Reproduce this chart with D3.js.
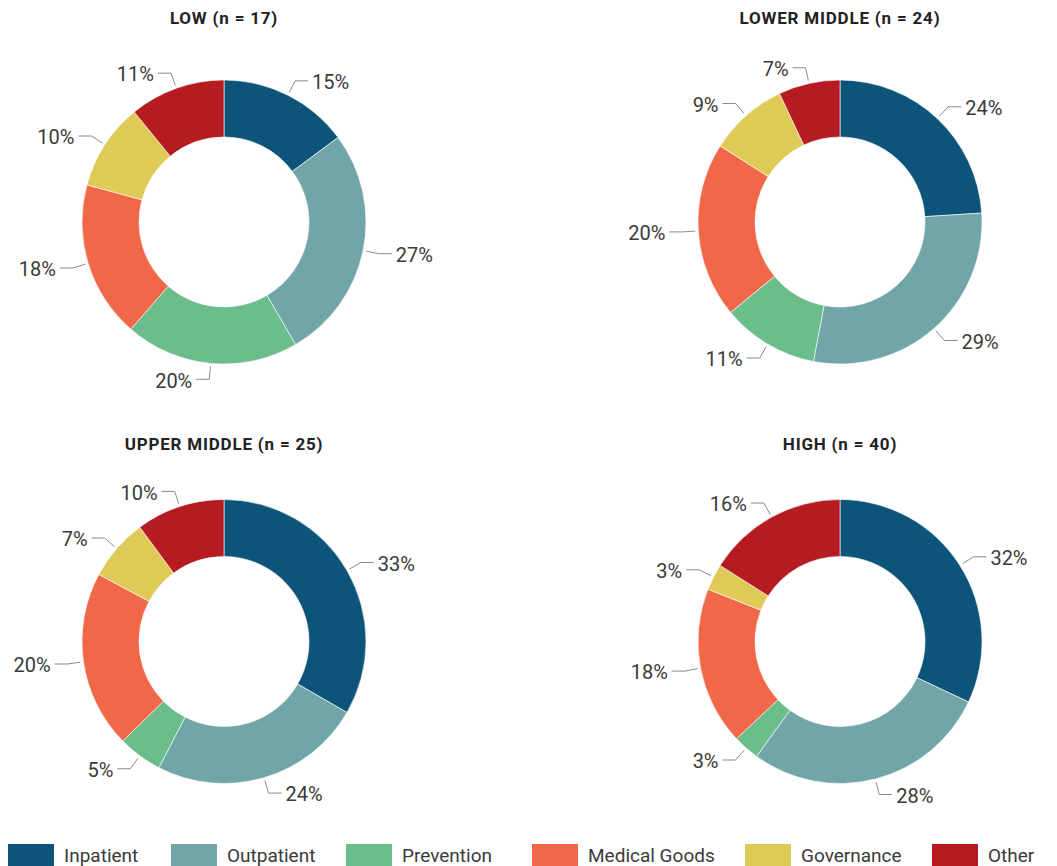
<!DOCTYPE html>
<html><head><meta charset="utf-8">
<script src="https://cdn.jsdelivr.net/npm/d3@7"></script>
<style>html,body{margin:0;padding:0;background:#fff;}svg{display:block;}</style>
</head><body>
<svg id="chart" width="1057" height="866"></svg>
<script>
// ---- data ----
const categories = ["Inpatient", "Outpatient", "Prevention", "Medical Goods", "Governance", "Other"];
const colors = ["#0d547b", "#72a5a7", "#6bbd8c", "#f16849", "#dfc957", "#b51c22"];
const groupTitles = ["LOW (n = 17)", "LOWER MIDDLE (n = 24)", "UPPER MIDDLE (n = 25)", "HIGH (n = 40)"];
const lowValues = [15, 27, 20, 18, 10, 11];
const lowerMiddleValues = [24, 29, 11, 20, 9, 7];
const upperMiddleValues = [33, 24, 5, 20, 7, 10];
const highValues = [32, 28, 3, 18, 3, 16];
const groupValues = [lowValues, lowerMiddleValues, upperMiddleValues, highValues];

// ---- layout ----
const centers = [[224, 222], [840, 222], [224, 641.5], [840, 641.5]];
const titleY = [20, 20, 446, 446];
const outerR = 142, innerR = 85;
const legendX = [8, 171, 346, 532, 745, 932];

const svg = d3.select("#chart");
const color = d3.scaleOrdinal().domain(categories).range(colors);
const pie = d3.pie().sort(null).value(d => d.value);
const arc = d3.arc().innerRadius(innerR).outerRadius(outerR);
const font = "Roboto, 'DejaVu Sans', sans-serif";

groupValues.forEach((vals, gi) => {
  const [cx, cy] = centers[gi];
  const data = categories.map((c, i) => ({cat: c, value: vals[i]}));
  const arcs = pie(data);

  svg.append("text")
    .attr("x", cx).attr("y", titleY[gi])
    .attr("text-anchor", "middle").attr("dominant-baseline", "middle")
    .attr("font-family", font).attr("font-weight", 700).attr("font-size", 17)
    .attr("letter-spacing", 0.8)
    .attr("fill", "#222")
    .text(groupTitles[gi]);

  const g = svg.append("g").attr("transform", `translate(${cx},${cy})`);
  g.selectAll("path.slice").data(arcs).join("path")
    .attr("class", "slice")
    .attr("d", arc)
    .attr("fill", d => color(d.data.cat))
    .attr("stroke", "#fff").attr("stroke-width", 0.6);

  arcs.forEach(d => {
    const a = (d.startAngle + d.endAngle) / 2;
    const side = a < Math.PI ? 1 : -1;
    const r1 = outerR + 3, r2 = outerR + 16;
    const p1 = [Math.sin(a) * r1, -Math.cos(a) * r1];
    const p2 = [Math.sin(a) * r2, -Math.cos(a) * r2];
    const p3 = [p2[0] + side * 13, p2[1]];
    g.append("polyline")
      .attr("points", [p1, p2, p3].map(p => p.join(",")).join(" "))
      .attr("fill", "none").attr("stroke", "#8a8a8a").attr("stroke-width", 1);
    g.append("text")
      .attr("x", p3[0] + side * 4).attr("y", p3[1] + 3)
      .attr("text-anchor", side > 0 ? "start" : "end")
      .attr("dominant-baseline", "middle")
      .attr("font-family", font).attr("font-size", 20)
      .attr("fill", "#3a3a3a")
      .text(d.data.value + "%");
  });
});

// ---- legend ----
const legend = svg.append("g");
categories.forEach((c, i) => {
  legend.append("rect")
    .attr("x", legendX[i]).attr("y", 844)
    .attr("width", 46).attr("height", 24)
    .attr("fill", color(c));
  legend.append("text")
    .attr("x", legendX[i] + 56).attr("y", 862)
    .attr("font-family", font).attr("font-size", 19)
    .attr("fill", "#3a3a3a")
    .text(c);
});
</script>
</body></html>
